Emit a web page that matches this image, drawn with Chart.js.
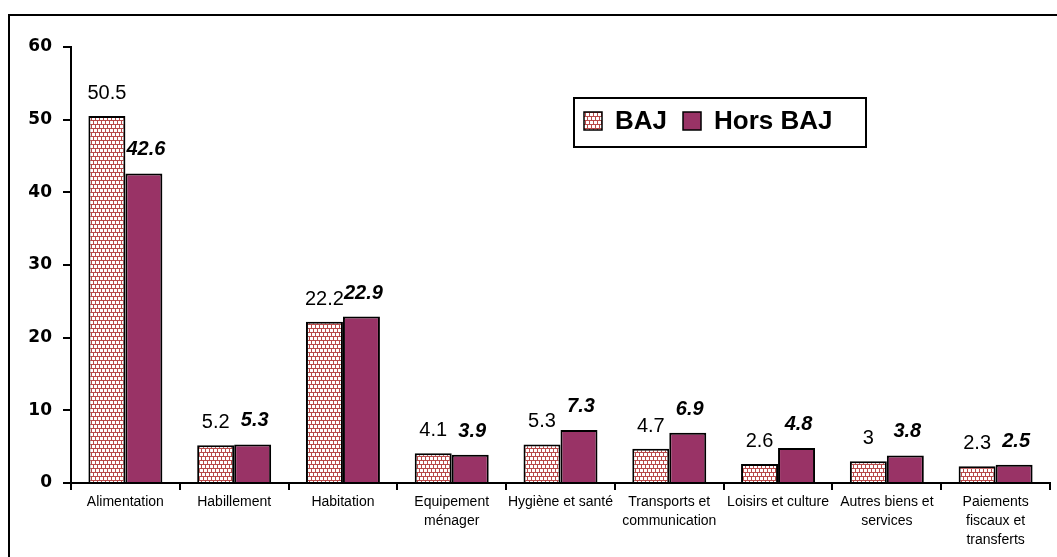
<!DOCTYPE html>
<html>
<head>
<meta charset="utf-8">
<script src="https://cdn.jsdelivr.net/npm/chart.js@4.4.1/dist/chart.umd.min.js"></script>
<style>
  html, body { margin: 0; padding: 0; background: #fff; overflow: hidden; }
  #wrap { position: relative; width: 1057px; height: 557px; }
  #frame { position: absolute; left: 8px; top: 14px; width: 1200px; height: 700px;
           border-left: 2px solid #000; border-top: 2px solid #000; }
  #myChart { position: absolute; left: 0; top: 0; }
</style>
</head>
<body>
<div id="wrap">
  <div id="frame"></div>
  <canvas id="myChart" width="1057" height="557"></canvas>
</div>
<script>
const categories = [
  'Alimentation',
  'Habillement',
  'Habitation',
  ['Equipement', 'ménager'],
  'Hygiène et santé',
  ['Transports et', 'communication'],
  'Loisirs et culture',
  ['Autres biens et', 'services'],
  ['Paiements', 'fiscaux et', 'transferts']
];
const seriesNames = ['BAJ', 'Hors BAJ'];
const bajValues = [50.5, 5.2, 22.2, 4.1, 5.3, 4.7, 2.6, 3, 2.3];
const horsBajValues = [42.6, 5.3, 22.9, 3.9, 7.3, 6.9, 4.8, 3.8, 2.5];
const yTicks = [0, 10, 20, 30, 40, 50, 60];

const PLUM = '#993366';

// motif "briques" pour la série BAJ
const makePattern = () => {
  const c = document.createElement('canvas');
  c.width = 8; c.height = 8;
  const g = c.getContext('2d');
  g.fillStyle = '#fff';
  g.fillRect(0, 0, 8, 8);
  g.fillStyle = '#b94a4a';
  g.fillRect(0, 0, 8, 1);
  g.fillRect(0, 4, 8, 1);
  g.fillRect(1, 1, 1, 3);
  g.fillRect(5, 1, 1, 3);
  g.fillRect(3, 5, 1, 3);
  g.fillRect(7, 5, 1, 3);
  return g.createPattern(c, 'repeat');
};

// étiquettes de valeurs au-dessus des barres
const valueLabels = {
  id: 'valueLabels',
  afterDatasetsDraw(chart) {
    const ctx = chart.ctx;
    ctx.save();
    ctx.textAlign = 'center';
    ctx.textBaseline = 'alphabetic';
    ctx.fillStyle = '#000';
    chart.data.datasets.forEach((ds, di) => {
      const meta = chart.getDatasetMeta(di);
      ctx.font = di === 0 ? '20px "Liberation Sans", Arial' : 'italic bold 20px "Liberation Sans", Arial';
      meta.data.forEach((el, i) => {
        const off = di === 0 ? 17 : 18;
        ctx.fillText(String(ds.data[i]), el.x + (di === 0 ? 0 : 2), el.y - off);
      });
    });
    ctx.restore();
  }
};

// légende encadrée dans la zone du graphique
const boxLegend = {
  id: 'boxLegend',
  afterDraw(chart) {
    const ctx = chart.ctx;
    const bx = 574, by = 98, bw = 292, bh = 49;
    ctx.save();
    ctx.fillStyle = '#fff';
    ctx.fillRect(bx, by, bw, bh);
    ctx.lineWidth = 2;
    ctx.strokeStyle = '#000';
    ctx.strokeRect(bx, by, bw, bh);
    ctx.font = 'bold 26px "Liberation Sans", Arial';
    ctx.textBaseline = 'middle';
    ctx.textAlign = 'left';
    let x = 584;
    const cy = 121;
    chart.data.datasets.forEach((ds) => {
      ctx.fillStyle = ds.backgroundColor;
      ctx.fillRect(x, cy - 9, 18, 18);
      ctx.lineWidth = 1.5;
      ctx.strokeRect(x, cy - 9, 18, 18);
      ctx.fillStyle = '#000';
      ctx.fillText(ds.label, x + 31, cy + 1);
      x += 31 + ctx.measureText(ds.label).width + 16;
    });
    ctx.restore();
  }
};

let myChart;

const setup = () => {
  const ctxt = document.getElementById('myChart').getContext('2d');
  const pattern = makePattern();

  myChart = new Chart(ctxt, {
    type: 'bar',
    data: {
      labels: categories,
      datasets: [
        {
          label: seriesNames[0],
          data: bajValues,
          backgroundColor: pattern,
          borderColor: '#000',
          borderWidth: 2,
          borderSkipped: 'bottom',
          barPercentage: 1,
          categoryPercentage: 0.68
        },
        {
          label: seriesNames[1],
          data: horsBajValues,
          backgroundColor: PLUM,
          borderColor: '#000',
          borderWidth: 2,
          borderSkipped: 'bottom',
          barPercentage: 1,
          categoryPercentage: 0.68
        }
      ]
    },
    options: {
      responsive: false,
      animation: false,
      layout: { padding: { top: 47, right: 7, left: 0, bottom: 0 } },
      plugins: {
        legend: { display: false },
        tooltip: { enabled: false }
      },
      scales: {
        x: {
          afterFit: (s) => { s.height = 74; },
          border: { display: true, color: '#000', width: 2 },
          grid: {
            offset: true,
            drawOnChartArea: false,
            tickLength: 7,
            color: '#000',
            lineWidth: 2
          },
          ticks: {
            color: '#000',
            maxRotation: 0,
            autoSkip: false,
            padding: 3,
            font: { family: '"Liberation Sans", Arial', size: 14, lineHeight: 19 / 14 }
          }
        },
        y: {
          min: 0,
          max: 60,
          afterFit: (s) => { s.width = 71; },
          afterBuildTicks: (s) => { s.ticks = yTicks.map(v => ({ value: v })); },
          border: { display: true, color: '#000', width: 2 },
          grid: {
            drawOnChartArea: false,
            tickLength: 8,
            color: '#000',
            lineWidth: 2
          },
          ticks: {
            color: '#000',
            padding: 11,
            font: { family: '"DejaVu Sans"', size: 17, weight: 'bold' }
          }
        }
      }
    },
    plugins: [valueLabels, boxLegend]
  });
};

window.addEventListener('DOMContentLoaded', setup);
</script>
</body>
</html>
